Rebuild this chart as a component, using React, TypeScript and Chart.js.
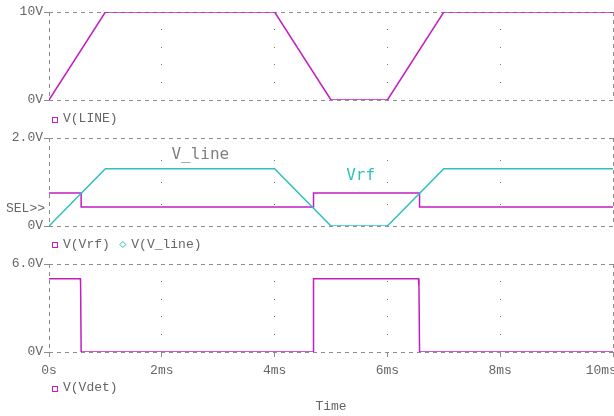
import { useEffect, useRef } from 'react';
import { Chart, registerables } from 'chart.js';

Chart.register(...registerables);

// Time axis (ms)
const timeTicks = [0, 2, 4, 6, 8, 10];
const timeTickLabels = ['0s', '2ms', '4ms', '6ms', '8ms', '10ms   '];

// V(LINE)
const lineTime = [0, 1, 4, 5, 6, 7, 10];
const lineVolts = [0, 10, 10, 0, 0, 10, 10];

// V(V_line)
const vLineTime = [0, 1, 4, 5, 6, 7, 10];
const vLineVolts = [0, 1.3, 1.3, 0, 0, 1.3, 1.3];

// V(Vrf)
const vrfTime = [0, 0.57, 0.57, 4.69, 4.69, 6.57, 6.57, 10];
const vrfVolts = [0.75, 0.75, 0.43, 0.43, 0.75, 0.75, 0.43, 0.43];

// V(Vdet)
const vdetTime = [0, 0.555, 0.56, 0.57, 4.69, 4.69, 6.55, 6.56, 6.57, 10];
const vdetVolts = [5, 5, 4.75, 0, 0, 5, 5, 4.45, 0, 0];

// Y axis ranges per panel
const panelMax = [10, 2, 6];
const panelStep = [2, 0.5, 1.2];
const panelTopLabel = ['10V', '2.0V', '6.0V'];

const MAGENTA = '#c21ec2';
const CYAN = '#2fbfbf';
const TEXT = '#666666';
const DASH = '#8c8c8c';
const DOT = '#6e6e6e';
const FONT = '"Liberation Mono", "Courier New", monospace';

const CW = 660;
const CH = 416;
const PLOT_LEFT = 49;
const PLOT_RIGHT = 613;

const toPoints = (t: number[], v: number[]) => t.map((x, i) => ({ x, y: v[i] }));

type PanelDef = {
  top: number;
  bottom: number;
  xHeight: number;
  showTime: boolean;
  legendOffset: number;
  datasets: any[];
  notes: { text: string; x: number; y: number; color: string }[];
  sel: boolean;
};

const panels: PanelDef[] = [
  {
    top: 12,
    bottom: 100,
    xHeight: 0,
    showTime: false,
    legendOffset: 19,
    sel: false,
    notes: [],
    datasets: [
      { label: 'V(LINE)', data: toPoints(lineTime, lineVolts), borderColor: MAGENTA, pointStyle: 'rect' },
    ],
  },
  {
    top: 138,
    bottom: 226,
    xHeight: 0,
    showTime: false,
    legendOffset: 18.5,
    sel: true,
    notes: [
      { text: 'V_line', x: 2.17, y: 1.62, color: '#808080' },
      { text: 'Vrf', x: 5.27, y: 1.13, color: CYAN },
    ],
    datasets: [
      { label: 'V(Vrf)', data: toPoints(vrfTime, vrfVolts), borderColor: MAGENTA, pointStyle: 'rect', order: 1 },
      { label: 'V(V_line)', data: toPoints(vLineTime, vLineVolts), borderColor: CYAN, pointStyle: 'rectRot', order: 0 },
    ],
  },
  {
    top: 264,
    bottom: 352,
    xHeight: 63,
    showTime: true,
    legendOffset: 36,
    sel: false,
    notes: [],
    datasets: [
      { label: 'V(Vdet)', data: toPoints(vdetTime, vdetVolts), borderColor: MAGENTA, pointStyle: 'rect' },
    ],
  },
];

// Sparse dot grid at the inner tick crossings
const gridDots = {
  id: 'gridDots',
  beforeDatasetsDraw(chart: any) {
    const { ctx, scales } = chart;
    const xs = scales.x;
    const ys = scales.y;
    ctx.save();
    ctx.fillStyle = DOT;
    for (const xt of xs.ticks) {
      if (xt.value <= xs.min + 1e-9 || xt.value >= xs.max - 1e-9) continue;
      const px = Math.floor(xs.getPixelForValue(xt.value));
      for (const yt of ys.ticks) {
        if (yt.value <= ys.min + 1e-9 || yt.value >= ys.max - 1e-9) continue;
        const py = Math.floor(ys.getPixelForValue(yt.value));
        ctx.fillRect(px, py, 1, 1);
      }
    }
    ctx.restore();
  },
};

// Trace legend, SEL marker and in-plot trace names
const panelText = {
  id: 'panelText',
  afterDraw(chart: any, _args: any, opts: any) {
    const { ctx, chartArea, scales } = chart;
    ctx.save();
    ctx.font = `13px ${FONT}`;
    ctx.textBaseline = 'middle';
    const y = chartArea.bottom + opts.legendOffset;
    let mx = chartArea.left + 5.5;
    chart.data.datasets.forEach((ds: any) => {
      ctx.strokeStyle = ds.borderColor;
      ctx.lineWidth = 1;
      if (ds.pointStyle === 'rectRot') {
        ctx.beginPath();
        ctx.moveTo(mx, y - 3);
        ctx.lineTo(mx + 3, y);
        ctx.lineTo(mx, y + 3);
        ctx.lineTo(mx - 3, y);
        ctx.closePath();
        ctx.stroke();
      } else {
        ctx.strokeRect(Math.round(mx - 2.5) + 0.5, Math.round(y - 2.5) + 0.5, 5, 5);
      }
      const tx = mx + 8.5;
      ctx.fillStyle = TEXT;
      ctx.textAlign = 'left';
      ctx.fillText(ds.label, tx, y);
      mx = tx + ctx.measureText(ds.label).width + 13;
    });
    if (opts.sel) {
      ctx.textAlign = 'right';
      ctx.fillStyle = TEXT;
      ctx.fillText('SEL>>', chartArea.left - 4, chartArea.bottom - 17);
    }
    ctx.font = '16px "DejaVu Sans Mono", monospace';
    ctx.textAlign = 'left';
    for (const n of opts.notes) {
      ctx.fillStyle = n.color;
      ctx.fillText(n.text, scales.x.getPixelForValue(n.x), scales.y.getPixelForValue(n.y));
    }
    ctx.restore();
  },
};

function Panel({ index }: { index: number }) {
  const ref = useRef<HTMLCanvasElement | null>(null);
  useEffect(() => {
    const p = panels[index];
    const yMax = panelMax[index];
    const isEdgeY = (v: number) => Math.abs(v) < 1e-9 || Math.abs(v - yMax) < 1e-9;
    const isEdgeX = (v: number) => v === timeTicks[0] || v === timeTicks[timeTicks.length - 1];
    const chart = new Chart(ref.current as HTMLCanvasElement, {
      type: 'line',
      data: {
        datasets: p.datasets.map((d) => ({
          ...d,
          borderWidth: 1.5,
          pointRadius: 0,
          tension: 0,
          fill: false,
        })),
      },
      options: {
        animation: false,
        responsive: false,
        events: [],
        layout: {
          padding: {
            left: 0,
            right: CW - PLOT_RIGHT,
            top: p.top,
            bottom: CH - p.bottom - p.xHeight,
          },
        },
        plugins: {
          legend: { display: false },
          tooltip: { enabled: false },
          panelText: { legendOffset: p.legendOffset, sel: p.sel, notes: p.notes },
        } as any,
        scales: {
          x: {
            type: 'linear',
            min: timeTicks[0],
            max: timeTicks[timeTicks.length - 1],
            afterFit: (s: any) => {
              s.height = p.xHeight;
            },
            afterBuildTicks: (s: any) => {
              s.ticks = timeTicks.map((value) => ({ value }));
            },
            border: { display: false, dash: [4, 4] },
            grid: {
              color: (c: any) => (c.tick && isEdgeX(c.tick.value) ? DASH : 'rgba(0,0,0,0)'),
              lineWidth: 1,
              drawTicks: p.showTime,
              tickLength: 5,
              tickColor: DASH,
            },
            ticks: {
              display: p.showTime,
              autoSkip: false,
              maxRotation: 0,
              padding: 6,
              color: TEXT,
              font: { family: FONT, size: 13 },
              callback: (v: any) => timeTickLabels[timeTicks.indexOf(Number(v))] ?? '',
            },
            title: {
              display: p.showTime,
              text: 'Time',
              color: TEXT,
              font: { family: FONT, size: 13 },
              padding: { top: 0, bottom: 1 },
            },
          },
          y: {
            type: 'linear',
            min: 0,
            max: yMax,
            afterFit: (s: any) => {
              s.width = PLOT_LEFT;
            },
            border: { display: false, dash: [4, 4] },
            grid: {
              color: (c: any) => (c.tick && isEdgeY(c.tick.value) ? DASH : 'rgba(0,0,0,0)'),
              lineWidth: 1,
              drawTicks: true,
              tickLength: 5,
              tickColor: (c: any) => (c.tick && isEdgeY(c.tick.value) ? DASH : 'rgba(0,0,0,0)'),
            },
            ticks: {
              stepSize: panelStep[index],
              autoSkip: false,
              padding: 1,
              color: TEXT,
              font: { family: FONT, size: 13 },
              callback: (v: any) => {
                const n = Number(v);
                if (Math.abs(n) < 1e-9) return '0V';
                if (Math.abs(n - yMax) < 1e-9) return panelTopLabel[index];
                return '';
              },
            },
          },
        },
      },
      plugins: [gridDots, panelText],
    });
    return () => chart.destroy();
  }, [index]);
  return (
    <canvas
      ref={ref}
      width={CW}
      height={CH}
      style={{ position: 'absolute', left: 0, top: 0, width: CW, height: CH }}
    />
  );
}

export default function App() {
  return (
    <div
      style={{
        position: 'fixed',
        left: 0,
        top: 0,
        width: 614,
        height: 416,
        overflow: 'hidden',
        background: '#ffffff',
      }}
    >
      {panels.map((_, i) => (
        <Panel key={i} index={i} />
      ))}
    </div>
  );
}
